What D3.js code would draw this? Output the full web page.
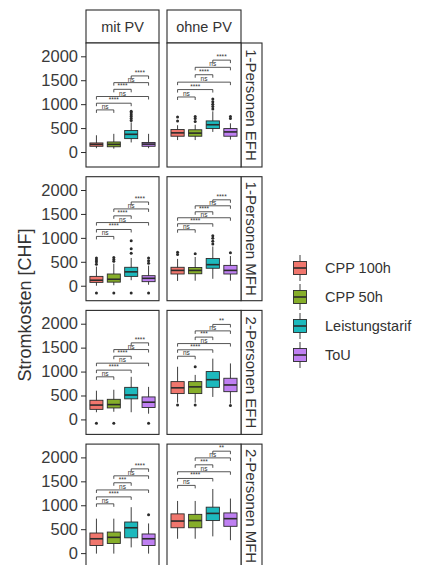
<!DOCTYPE html>
<html>
<head>
<meta charset="utf-8">
<script src="https://cdn.jsdelivr.net/npm/d3@7"></script>
<style>
  body { margin: 0; background: #fff; }
  text { font-family: "Liberation Sans", Arial, sans-serif; }
</style>
</head>
<body>
<svg id="vis"></svg>
<script>
// Kategorien und Facetten
const categories = ["CPP 100h", "CPP 50h", "Leistungstarif", "ToU"];
const colFacets = ["mit PV", "ohne PV"];
const rowFacets = ["1-Personen EFH", "1-Personen MFH", "2-Personen EFH", "2-Personen MFH"];
const yTicks = [0, 500, 1000, 1500, 2000];
const colors = ["#F0766D", "#86AE2A", "#1DB9BD", "#BF80F2"];

// [min, q1, median, q3, max] pro Kategorie, je Panel
const box_1EFH_mit  = [[80, 120, 160, 190, 350], [70, 110, 160, 210, 380], [200, 280, 370, 450, 620], [80, 120, 165, 200, 380]];
const box_1EFH_ohne = [[250, 330, 400, 470, 560], [250, 330, 395, 465, 570], [420, 490, 570, 650, 850], [260, 330, 420, 490, 600]];
const box_1MFH_mit  = [[0, 70, 115, 195, 400], [10, 75, 135, 245, 460], [115, 195, 290, 385, 580], [20, 85, 155, 210, 420]];
const box_1MFH_ohne = [[100, 245, 320, 385, 560], [105, 250, 320, 380, 600], [145, 365, 440, 570, 820], [105, 245, 320, 425, 620]];
const box_2EFH_mit  = [[150, 210, 300, 400, 600], [160, 240, 310, 420, 620], [150, 430, 510, 670, 890], [120, 250, 360, 470, 680]];
const box_2EFH_ohne = [[350, 540, 660, 790, 1100], [350, 540, 680, 790, 930], [470, 670, 830, 1000, 1270], [330, 580, 720, 860, 1170]];
const box_2MFH_mit  = [[-10, 160, 300, 420, 720], [-10, 200, 330, 440, 720], [120, 320, 530, 650, 960], [-10, 160, 300, 400, 620]];
const box_2MFH_ohne = [[300, 530, 670, 820, 1090], [300, 530, 680, 810, 1090], [350, 680, 830, 960, 1340], [270, 560, 720, 840, 1140]];

// Ausreisser
const out_1EFH_mit  = [[], [], [660, 700, 740, 780, 820, 850], []];
const out_1EFH_ohne = [[650, 730], [640, 700, 740], [900, 950, 1000, 1050, 1110], [700, 740]];
const out_1MFH_mit  = [[-150, 450, 500, 540, 580], [-150, 510, 550, 590], [-150, 680, 770, 940], [-150, 470, 520, 580]];
const out_1MFH_ohne = [[650, 700], [670], [870, 930, 990, 1045], [690]];
const out_2EFH_mit  = [[-80], [-80], [], [-80]];
const out_2EFH_ohne = [[300], [300, 1100], [], [290]];
const out_2MFH_mit  = [[], [], [], [800]];
const out_2MFH_ohne = [[], [], [], []];

// Paarvergleiche (Klammern)
const comparisons = [[0, 1], [0, 2], [0, 3], [1, 2], [1, 3], [2, 3]];
const brk_1EFH_mit  = [880, 1020, 1160, 1310, 1450, 1590];
const brk_1EFH_ohne = [1150, 1305, 1460, 1615, 1770, 1920];
const brk_1MFH_mit  = [1030, 1175, 1320, 1460, 1605, 1750];
const brk_1MFH_ohne = [1170, 1295, 1420, 1545, 1670, 1795];
const brk_2EFH_mit  = [890, 1030, 1175, 1320, 1460, 1600];
const brk_2EFH_ohne = [1320, 1455, 1585, 1720, 1850, 1985];
const brk_2MFH_mit  = [1030, 1175, 1320, 1470, 1615, 1760];
const brk_2MFH_ohne = [1415, 1560, 1700, 1845, 1990, 2130];
const sig_1EFH_mit  = ["ns", "****", "ns", "****", "ns", "****"];
const sig_1EFH_ohne = ["ns", "****", "ns", "****", "ns", "****"];
const sig_1MFH_mit  = ["ns", "****", "ns", "****", "ns", "****"];
const sig_1MFH_ohne = ["ns", "****", "ns", "****", "ns", "****"];
const sig_2EFH_mit  = ["ns", "****", "ns", "****", "ns", "****"];
const sig_2EFH_ohne = ["ns", "****", "ns", "***", "ns", "**"];
const sig_2MFH_mit  = ["ns", "****", "ns", "***", "ns", "****"];
const sig_2MFH_ohne = ["ns", "****", "ns", "***", "ns", "**"];

const panels = [
    [{box: box_1EFH_mit, out: out_1EFH_mit, brk: brk_1EFH_mit, sig: sig_1EFH_mit},
     {box: box_1EFH_ohne, out: out_1EFH_ohne, brk: brk_1EFH_ohne, sig: sig_1EFH_ohne}],
    [{box: box_1MFH_mit, out: out_1MFH_mit, brk: brk_1MFH_mit, sig: sig_1MFH_mit},
     {box: box_1MFH_ohne, out: out_1MFH_ohne, brk: brk_1MFH_ohne, sig: sig_1MFH_ohne}],
    [{box: box_2EFH_mit, out: out_2EFH_mit, brk: brk_2EFH_mit, sig: sig_2EFH_mit},
     {box: box_2EFH_ohne, out: out_2EFH_ohne, brk: brk_2EFH_ohne, sig: sig_2EFH_ohne}],
    [{box: box_2MFH_mit, out: out_2MFH_mit, brk: brk_2MFH_mit, sig: sig_2MFH_mit},
     {box: box_2MFH_ohne, out: out_2MFH_ohne, brk: brk_2MFH_ohne, sig: sig_2MFH_ohne}]
];

const WIDTH = 423;
const HEIGHT = 565;
const colX = [[86, 159], [167, 241]];
const ROW_TOP = 43, ROW_STEP = 133.7, PANEL_H = 124;
const STRIP_TOP = 10, STRIP_R = 262;
const INK = "#2b2b2b";

const svg = d3.select("#vis").attr("width", WIDTH).attr("height", HEIGHT);

// Facettenkoepfe oben
colFacets.forEach((name, c) => {
    svg.append("rect")
        .attr("x", colX[c][0]).attr("y", STRIP_TOP)
        .attr("width", colX[c][1] - colX[c][0]).attr("height", ROW_TOP - STRIP_TOP)
        .attr("fill", "#fff").attr("stroke", INK).attr("stroke-width", 1.1);
    svg.append("text")
        .attr("x", (colX[c][0] + colX[c][1]) / 2).attr("y", (STRIP_TOP + ROW_TOP) / 2)
        .attr("text-anchor", "middle").attr("dominant-baseline", "central")
        .attr("font-size", 14.5).attr("fill", "#333")
        .text(name);
});

rowFacets.forEach((rowName, r) => {
    const top = ROW_TOP + r * ROW_STEP;
    const y = d3.scaleLinear().domain([-313, 2278]).range([top + PANEL_H, top]);

    // Facettenkopf rechts
    svg.append("rect")
        .attr("x", colX[1][1]).attr("y", top)
        .attr("width", STRIP_R - colX[1][1]).attr("height", PANEL_H)
        .attr("fill", "#fff").attr("stroke", INK).attr("stroke-width", 1.1);
    const sx = (colX[1][1] + STRIP_R) / 2, sy = top + PANEL_H / 2;
    svg.append("text")
        .attr("transform", `translate(${sx}, ${sy}) rotate(90)`)
        .attr("text-anchor", "middle").attr("dominant-baseline", "central")
        .attr("font-size", 15).attr("fill", "#333")
        .text(rowName);

    colFacets.forEach((colName, c) => {
        const p = panels[r][c];
        const x = d3.scalePoint().domain(categories).range(colX[c]).padding(0.6);
        const bw = x.step() * 0.75;
        const g = svg.append("g");

        g.append("rect")
            .attr("x", colX[c][0]).attr("y", top)
            .attr("width", colX[c][1] - colX[c][0]).attr("height", PANEL_H)
            .attr("fill", "#fff");

        // Boxplots
        const boxes = g.selectAll(".box")
            .data(categories.map((k, i) => ({k: k, s: p.box[i], o: p.out[i], col: colors[i]})))
            .join("g").attr("class", "box");
        boxes.append("line")
            .attr("x1", d => x(d.k)).attr("x2", d => x(d.k))
            .attr("y1", d => y(d.s[0])).attr("y2", d => y(d.s[4]))
            .attr("stroke", INK).attr("stroke-width", 0.9);
        boxes.append("rect")
            .attr("x", d => x(d.k) - bw / 2).attr("width", bw)
            .attr("y", d => y(d.s[3])).attr("height", d => y(d.s[1]) - y(d.s[3]))
            .attr("fill", d => d.col).attr("stroke", INK).attr("stroke-width", 0.9);
        boxes.append("line")
            .attr("x1", d => x(d.k) - bw / 2).attr("x2", d => x(d.k) + bw / 2)
            .attr("y1", d => y(d.s[2])).attr("y2", d => y(d.s[2]))
            .attr("stroke", INK).attr("stroke-width", 1.6);
        boxes.selectAll("circle")
            .data(d => d.o.map(v => ({k: d.k, v: v})))
            .join("circle")
            .attr("cx", d => x(d.k)).attr("cy", d => y(d.v))
            .attr("r", 1.5).attr("fill", INK);

        // Signifikanzklammern
        const tip = 3;
        comparisons.forEach((pair, j) => {
            const x1 = x(categories[pair[0]]), x2 = x(categories[pair[1]]);
            const yy = y(p.brk[j]);
            g.append("path")
                .attr("d", `M${x1},${yy + tip}V${yy}H${x2}V${yy + tip}`)
                .attr("fill", "none").attr("stroke", INK).attr("stroke-width", 0.8);
            g.append("text")
                .attr("x", (x1 + x2) / 2).attr("y", yy - 1)
                .attr("text-anchor", "middle")
                .attr("font-size", 6.5).attr("fill", "#333")
                .text(p.sig[j]);
        });

        g.append("rect")
            .attr("x", colX[c][0]).attr("y", top)
            .attr("width", colX[c][1] - colX[c][0]).attr("height", PANEL_H)
            .attr("fill", "none").attr("stroke", INK).attr("stroke-width", 1.1);

        if (c === 0) {
            const axis = svg.append("g")
                .attr("transform", `translate(${colX[0][0]}, 0)`)
                .call(d3.axisLeft(y).tickValues(yTicks).tickFormat(d3.format("d")).tickSize(5).tickPadding(3));
            axis.select(".domain").remove();
            axis.selectAll(".tick line").attr("stroke", INK);
            axis.selectAll(".tick text")
                .attr("font-size", 16.5).attr("fill", "#3a3a3a")
                .attr("font-family", "Liberation Sans, Arial, sans-serif");
        }
    });
});

// Achsentitel
svg.append("text")
    .attr("transform", "translate(31, 305) rotate(-90)")
    .attr("text-anchor", "middle")
    .attr("font-size", 18).attr("fill", "#333")
    .text("Stromkosten [CHF]");

// Legende
const legend = svg.append("g").attr("transform", "translate(300, 0)");
const keyY = d3.scalePoint().domain(categories).range([268, 355]);
const keys = legend.selectAll(".key").data(categories).join("g").attr("class", "key");
keys.append("line")
    .attr("x1", 0).attr("x2", 0)
    .attr("y1", d => keyY(d) - 13).attr("y2", d => keyY(d) + 13)
    .attr("stroke", INK).attr("stroke-width", 0.9);
keys.append("rect")
    .attr("x", -6.5).attr("width", 13)
    .attr("y", d => keyY(d) - 6.5).attr("height", 13)
    .attr("fill", (d, i) => colors[i]).attr("stroke", INK).attr("stroke-width", 0.9);
keys.append("line")
    .attr("x1", -6.5).attr("x2", 6.5)
    .attr("y1", d => keyY(d)).attr("y2", d => keyY(d))
    .attr("stroke", INK).attr("stroke-width", 1.6);
keys.append("text")
    .attr("x", 25).attr("y", d => keyY(d))
    .attr("dominant-baseline", "central")
    .attr("font-size", 14.5).attr("fill", "#333")
    .text(d => d);
</script>
</body>
</html>
